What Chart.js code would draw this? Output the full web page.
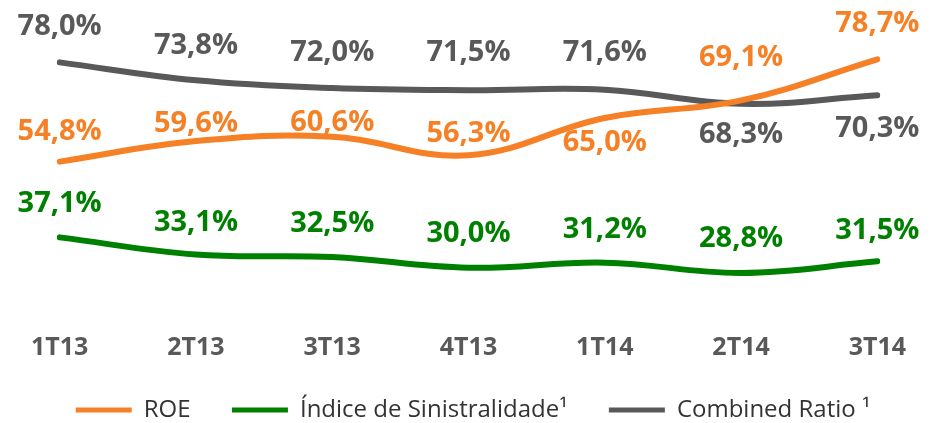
<!DOCTYPE html>
<html>
<head>
<meta charset="utf-8">
<script src="https://cdn.jsdelivr.net/npm/chart.js@4/dist/chart.umd.min.js"></script>
<style>
html,body{margin:0;padding:0;background:#fff;}
#wrap{width:937px;height:423px;position:relative;}
</style>
</head>
<body>
<div id="wrap"><canvas id="c"></canvas></div>
<script>
const categories = ['1T13','2T13','3T13','4T13','1T14','2T14','3T14'];
const roe = [54.8, 59.6, 60.6, 56.3, 65.0, 69.1, 78.7];
const sinistralidade = [37.1, 33.1, 32.5, 30.0, 31.2, 28.8, 31.5];
const combinedRatio = [78.0, 73.8, 72.0, 71.5, 71.6, 68.3, 70.3];
const seriesNames = ['ROE', 'Índice de Sinistralidade¹', 'Combined Ratio ¹'];

const ORANGE = '#F58025', GREEN = '#008000', GREY = '#595959';

// label vertical offsets (style)
const labelOffsets = [
  [-30, -17, -14, -21, 25, -43, -36],
  [-34, -32, -33, -34, -33, -34, -31],
  [-36, -35, -35, -37, -37, 31, 33]
];

const fmt = v => v.toFixed(1).replace('.', ',') + '%';

const labelPlugin = {
  id: 'pointLabels',
  afterDatasetsDraw(chart) {
    const ctx = chart.ctx;
    ctx.save();
    ctx.font = 'bold 29px "Open Sans"';
    ctx.textAlign = 'center';
    ctx.textBaseline = 'middle';
    chart.data.datasets.forEach((ds, di) => {
      const meta = chart.getDatasetMeta(di);
      ctx.fillStyle = ds.borderColor;
      meta.data.forEach((pt, i) => {
        ctx.fillText(fmt(ds.data[i]), pt.x, pt.y + labelOffsets[di][i]);
      });
    });
    ctx.restore();
  }
};

new Chart(document.getElementById('c'), {
  type: 'line',
  data: {
    labels: categories,
    datasets: [
      { label: seriesNames[0], data: roe, borderColor: ORANGE, backgroundColor: ORANGE },
      { label: seriesNames[1], data: sinistralidade, borderColor: GREEN, backgroundColor: GREEN },
      { label: seriesNames[2], data: combinedRatio, borderColor: GREY, backgroundColor: GREY }
    ]
  },
  options: {
    responsive: true,
    maintainAspectRatio: false,
    animation: false,
    devicePixelRatio: 1,
    layout: { padding: { left: 58, right: 49, top: 11, bottom: -9 } },
    elements: {
      line: { borderWidth: 6, tension: 0.4, borderCapStyle: 'round', fill: false },
      point: { radius: 0, hoverRadius: 0 }
    },
    scales: {
      x: {
        offset: false,
        grid: { display: false, drawTicks: false },
        border: { display: false },
        ticks: { color: GREY, font: { family: '"Open Sans"', size: 25, weight: 'bold', lineHeight: 1.2 }, padding: 31, maxRotation: 0 }
      },
      y: {
        display: false,
        min: 22, max: 90
      }
    },
    plugins: {
      legend: {
        position: 'bottom',
        labels: {
          color: '#333333',
          font: { family: '"Open Sans"', size: 24 },
          boxWidth: 56,
          boxHeight: 5,
          padding: 4,
          generateLabels(chart) {
            return chart.data.datasets.map((ds, i) => ({
              text: ds.label + (i < 2 ? '      ' : ''),
              fillStyle: ds.borderColor,
              strokeStyle: ds.borderColor,
              lineWidth: 0,
              fontColor: '#333333',
              datasetIndex: i,
              hidden: false
            }));
          }
        }
      },
      tooltip: { enabled: false }
    }
  },
  plugins: [labelPlugin]
});
</script>
</body>
</html>
